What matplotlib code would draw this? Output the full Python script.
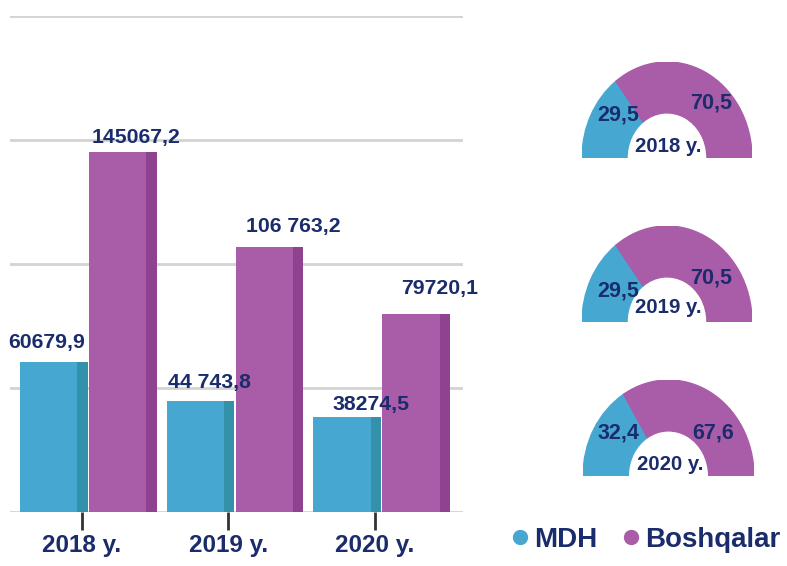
import matplotlib
matplotlib.use('Agg')
import matplotlib.pyplot as plt
from matplotlib.patches import Wedge
from matplotlib.lines import Line2D

years = ['2018 y.', '2019 y.', '2020 y.']
mdh = [60679.9, 44743.8, 38274.5]
boshqalar = [145067.2, 106763.2, 79720.1]
mdh_labels = ['60679,9', '44 743,8', '38274,5']
bosh_labels = ['145067,2', '106 763,2', '79720,1']
share_mdh = [29.5, 29.5, 32.4]
share_bosh = [70.5, 70.5, 67.6]
share_mdh_labels = ['29,5', '29,5', '32,4']
share_bosh_labels = ['70,5', '70,5', '67,6']

plt.rcParams['font.family'] = ['Liberation Sans', 'DejaVu Sans']
plt.rcParams['font.weight'] = 'bold'

c_mdh = '#46A8D1'
c_mdh_side = '#3392A9'
c_bosh = '#A95CA7'
c_bosh_side = '#8E4290'
c_text = '#1B2C6C'

W, H = 787, 566
fig = plt.figure(figsize=(W/100, H/100), dpi=100)

def px_box(x0, x1, ytop, ybot):
	return [x0/W, 1 - ybot/H, (x1 - x0)/W, (ybot - ytop)/H]

# main bar chart
ax = fig.add_axes(px_box(10, 463, 16, 512))
xs = [0, 1, 2]
front_w = 0.39
side_w = 0.07
ax.bar([x - 0.42 for x in xs], mdh, width=front_w, align='edge', color=c_mdh, zorder=3)
ax.bar([x - 0.03 for x in xs], mdh, width=side_w, align='edge', color=c_mdh_side, zorder=3)
ax.bar([x + 0.05 for x in xs], boshqalar, width=front_w, align='edge', color=c_bosh, zorder=3)
ax.bar([x + 0.44 for x in xs], boshqalar, width=side_w, align='edge', color=c_bosh_side, zorder=3)

mdh_off = [(-0.24, 19), (-0.13, 19), (-0.03, 13)]
bosh_off = [(0.37, 15), (0.44, 21), (0.44, 26)]
for i in range(3):
	ax.annotate(mdh_labels[i], (xs[i] + mdh_off[i][0], mdh[i]), xytext=(0, mdh_off[i][1]),
		textcoords='offset pixels', ha='center', va='center', fontsize=15.3, color=c_text, zorder=5)
	ax.annotate(bosh_labels[i], (xs[i] + bosh_off[i][0], boshqalar[i]), xytext=(0, bosh_off[i][1]),
		textcoords='offset pixels', ha='center', va='center', fontsize=15.3, color=c_text, zorder=5,
		annotation_clip=False)

ax.set_xlim(-0.49, 2.60)
ax.set_ylim(0, 200000)
ax.set_yticks([0, 50000, 100000, 150000, 200000])
ax.yaxis.grid(True, color='#D3D3D3', linewidth=2)
ax.tick_params(axis='y', length=0, labelleft=False)
ax.set_xticks(xs)
ax.set_xticklabels(years, fontsize=17.5, color=c_text)
ax.tick_params(axis='x', length=13, width=2, color='#333333', pad=3)
for s in ax.spines.values():
	s.set_visible(False)
ax.set_axisbelow(True)

# half donuts
donut_boxes = [(582, 752, 62, 158), (582, 752, 226, 322), (583, 754, 380, 476)]
# label heights inside each donut (axes fraction): small share, big share, year
label_y = [(0.45, 0.57, 0.12), (0.32, 0.46, 0.15), (0.45, 0.45, 0.12)]
for i in range(3):
	dax = fig.add_axes(px_box(*donut_boxes[i]))
	a_split = 180 - share_mdh[i] / 100 * 180
	dax.add_patch(Wedge((0, 0), 1, a_split, 180, width=0.53, color=c_mdh))
	dax.add_patch(Wedge((0, 0), 1, 0, a_split, width=0.53, color=c_bosh))
	dax.set_xlim(-1, 1)
	dax.set_ylim(0, 1)
	dax.axis('off')
	ys, yb, yy = label_y[i]
	dax.text(-0.58, ys, share_mdh_labels[i], ha='center', va='center', fontsize=15.5, color=c_text)
	dax.text(0.52, yb, share_bosh_labels[i], ha='center', va='center', fontsize=15.5, color=c_text)
	dax.text(0.02, yy, years[i], ha='center', va='center', fontsize=14.7, color=c_text)

handles = [Line2D([], [], marker='o', linestyle='', markersize=10, color=c_mdh),
	Line2D([], [], marker='o', linestyle='', markersize=10, color=c_bosh)]
fig.legend(handles, ['MDH', 'Boshqalar'], loc='center', bbox_to_anchor=(646/W, 1 - 540/H),
	ncol=2, frameon=False, handletextpad=0.2, columnspacing=0.9, handlelength=0.6,
	prop={'size': 20, 'weight': 'bold'}, labelcolor=c_text)

fig.savefig('out.png', dpi=100)
